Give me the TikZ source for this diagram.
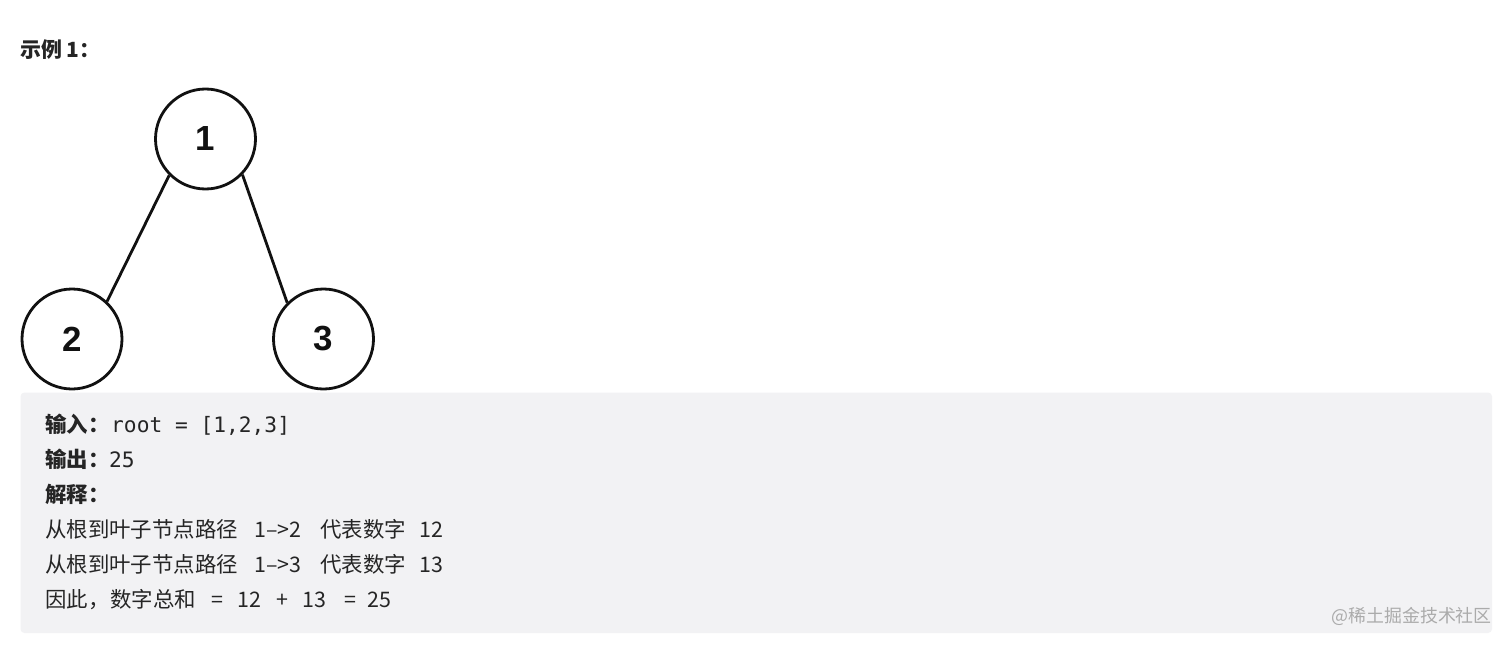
\documentclass[tikz,border=0pt]{standalone}
\usepackage{fontspec}
\setmainfont{Noto Sans CJK SC}
\newfontfamily\cjkfont{Noto Sans CJK SC}
\newfontfamily\monofont{DejaVu Sans Mono}
\newfontfamily\digitfont{Liberation Sans}
\definecolor{txt}{HTML}{252525}
\definecolor{boxbg}{HTML}{F2F2F4}
\definecolor{wm}{HTML}{ABABAB}
\definecolor{ink}{HTML}{111111}
\begin{document}
\begin{tikzpicture}[x=1bp,y=-1bp,
  treenode/.style={circle,draw=ink,line width=2.8bp,minimum size=100bp,inner sep=0pt,
    font=\digitfont\bfseries\fontsize{35}{40}\selectfont,text=ink},
  edge/.style={draw=ink,line width=2.8bp},
  cjktxt/.style={anchor=base west,inner sep=0pt,text=txt,font=\cjkfont\fontsize{21.5}{26}\selectfont},
  cjkbold/.style={cjktxt,font=\cjkfont\bfseries\fontsize{21.5}{26}\selectfont},
  monotxt/.style={anchor=base west,inner sep=0pt,text=txt,font=\monofont\fontsize{21.3}{26}\selectfont}]
\useasboundingbox (0,0) rectangle (1512,646);
\fill[white] (0,0) rectangle (1512,646);

% title
\node[anchor=west,inner sep=0pt,text=txt,font=\cjkfont\bfseries\fontsize{21}{25}\selectfont] (title) at (20,50) {示例 1：};

% tree
\node[treenode] (n1) at (205.5,139) {1};
\node[treenode] (n2) at (72,339) {2};
\node[treenode] (n3) at (323.5,339) {3};
\draw[edge] (n1.225) -- (n2.47);
\draw[edge] (n1.316) -- (n3.135);

% example box
\fill[boxbg,rounded corners=4bp] (20.5,392.5) rectangle (1492,633) coordinate (boxse);

% line 1
\node[cjkbold] (l1a) at (45,432) {输入：};
\node[monotxt] (l1b) at (111,432) {root = [1,2,3]};
% line 2
\node[cjkbold] (l2a) at (45,467) {输出：};
\node[monotxt] (l2b) at (109,467) {25};
% line 3
\node[cjkbold] (l3a) at (45,502) {解释：};
% line 4
\node[cjktxt] (l4a) at (45,537) {从根到叶子节点路径};
\node[cjktxt] (l4b) at (254,537) {1–>2};
\node[cjktxt] (l4c) at (320,537) {代表数字};
\node[cjktxt] (l4d) at (419,537) {12};
% line 5
\node[cjktxt] (l5a) at (45,572) {从根到叶子节点路径};
\node[cjktxt] (l5b) at (254,572) {1–>3};
\node[cjktxt] (l5c) at (320,572) {代表数字};
\node[cjktxt] (l5d) at (419,572) {13};
% line 6
\node[cjktxt] (l6a) at (45,607) {因此，};
\node[cjktxt] (l6b) at (110,607) {数字总和};
\node[cjktxt] (l6c) at (211,607) {=};
\node[cjktxt] (l6d) at (237,607) {12};
\node[cjktxt] (l6e) at (276,607) {+};
\node[cjktxt] (l6f) at (302,607) {13};
\node[cjktxt] (l6g) at (344,607) {=};
\node[cjktxt] (l6h) at (367,607) {25};

% watermark
\node[anchor=east,inner sep=0pt,text=wm,font=\cjkfont\fontsize{18}{22}\selectfont] (wmark) at (1492,616) {@稀土掘金技术社区};
\end{tikzpicture}
\end{document}
